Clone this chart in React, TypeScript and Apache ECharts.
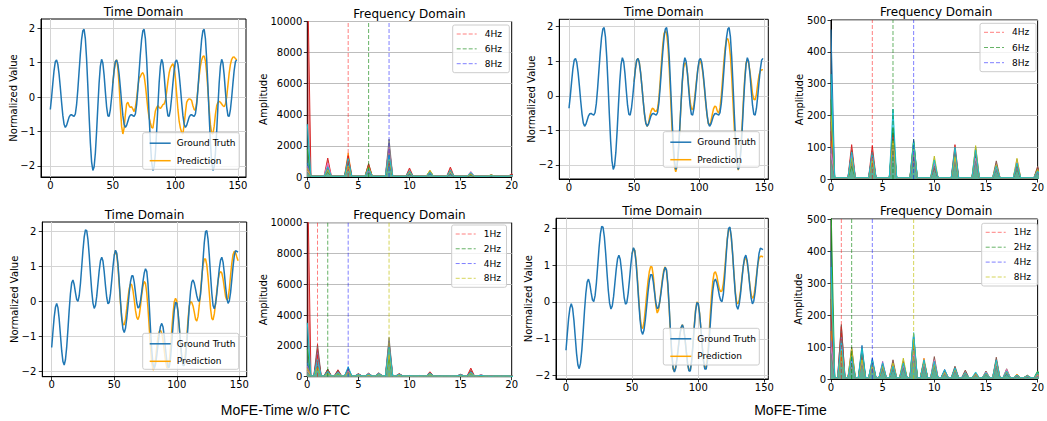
import React, { useEffect, useRef } from 'react';
import * as echarts from 'echarts';

// ---------------- DATA ----------------
const PRED_START = 50;

const GT_TOP = [
  -0.36,-0.01,0.40,0.78,1.03,1.08,0.96,0.67,0.28,-0.15,-0.53,-0.79,-0.88,-0.82,-0.70,-0.58,-0.52,-0.51,-0.54,-0.56,-0.49,-0.22,0.22,0.74,1.25,1.68,1.93,1.97,1.70,1.11,0.32,-0.54,-1.32,-1.88,-2.13,-2.03,-1.63,-1.00,-0.27,0.41,0.90,1.10,0.99,0.64,0.16,-0.28,-0.54,-0.56,
  -0.36,-0.01,0.40,0.78,1.03,1.08,0.96,0.67,0.28,-0.15,-0.53,-0.79,-0.88,-0.82,-0.70,-0.58,-0.52,-0.51,-0.54,-0.56,-0.49,-0.22,0.22,0.74,1.25,1.68,1.93,1.97,1.70,1.11,0.32,-0.54,-1.32,-1.88,-2.13,-2.03,-1.63,-1.00,-0.27,0.41,0.90,1.10,0.99,0.64,0.16,-0.28,-0.54,-0.56,
  -0.36,-0.01,0.40,0.78,1.03,1.08,0.96,0.67,0.28,-0.15,-0.53,-0.79,-0.88,-0.82,-0.70,-0.58,-0.52,-0.51,-0.54,-0.56,-0.49,-0.22,0.22,0.74,1.25,1.68,1.93,1.97,1.70,1.11,0.32,-0.54,-1.32,-1.88,-2.13,-2.03,-1.63,-1.00,-0.27,0.41,0.90,1.10,0.99,0.64,0.16,-0.28,-0.54,-0.56,
  -0.36,-0.01,0.40,0.78,1.03,1.08,
];

const PRED_TL = [
  0.40,0.78,1.03,1.08,0.85,0.35,-0.30,-0.85,-1.07,-0.90,
  -0.50,-0.20,-0.15,-0.25,-0.30,-0.28,-0.35,-0.42,-0.30,-0.05,
  0.30,0.55,0.60,0.68,0.71,0.62,0.35,0.00,-0.35,-0.60,
  -0.75,-0.88,-0.90,-0.65,-0.40,-0.30,-0.25,-0.30,-0.33,-0.28,
  -0.22,-0.20,-0.10,0.15,0.45,0.70,0.85,0.92,0.97,0.85,
  0.55,0.10,-0.35,-0.70,-0.90,-1.02,-1.07,-0.80,-0.45,-0.15,
  -0.08,-0.05,-0.06,-0.10,-0.25,-0.36,-0.38,-0.15,0.25,0.60,
  0.90,1.08,1.18,1.20,1.05,0.70,0.20,-0.35,-0.80,-1.05,
  -1.07,-0.85,-0.50,-0.25,-0.15,-0.12,-0.15,-0.20,-0.25,-0.28,
  -0.20,0.00,0.35,0.70,0.95,1.10,1.16,1.17,1.12,1.08,
];

const PRED_TR = [
  0.40,0.78,1.03,1.08,0.96,0.67,0.28,-0.15,-0.53,-0.79,
  -0.88,-0.82,-0.60,-0.45,-0.36,-0.38,-0.45,-0.45,-0.38,-0.10,
  0.40,0.95,1.45,1.80,1.88,1.80,1.45,0.80,0.00,-0.85,
  -1.55,-2.05,-2.20,-2.05,-1.60,-1.00,-0.30,0.35,0.80,0.95,
  0.92,0.65,0.25,-0.15,-0.38,-0.40,-0.25,0.10,0.45,0.78,
  0.98,1.00,0.88,0.60,0.22,-0.20,-0.55,-0.80,-0.85,-0.75,
  -0.55,-0.38,-0.30,-0.32,-0.45,-0.50,-0.35,0.00,0.50,1.00,
  1.40,1.62,1.65,1.50,1.15,0.55,-0.20,-0.95,-1.60,-2.00,
  -2.15,-1.95,-1.50,-0.85,-0.10,0.50,0.95,1.05,0.95,0.70,
  0.40,0.05,-0.10,-0.12,0.05,0.35,0.60,0.72,0.75,0.75,
];

const GT_BOT = [
  -1.31,-0.86,-0.44,-0.16,-0.05,-0.17,-0.50,-0.95,-1.40,-1.71,
  -1.81,-1.66,-1.30,-0.79,-0.24,0.23,0.54,0.62,0.49,0.26,
  0.06,0.01,0.17,0.52,0.99,1.47,1.85,2.05,2.03,1.77,
  1.33,0.80,0.31,-0.04,-0.19,-0.11,0.15,0.52,0.89,1.17,
  1.27,1.16,0.85,0.46,0.12,-0.06,-0.02,0.23,0.60,1.00,
  1.32,1.47,1.39,1.07,0.57,0.02,-0.48,-0.79,-0.88,-0.76,
  -0.48,-0.12,0.26,0.57,0.74,0.74,0.55,0.25,-0.03,-0.18,
  -0.15,0.02,0.29,0.58,0.82,0.94,0.87,0.50,-0.10,-0.78,
  -1.39,-1.79,-1.90,-1.79,-1.54,-1.23,-0.92,-0.70,-0.62,-0.72,
  -0.99,-1.35,-1.68,-1.87,-1.87,-1.61,-1.18,-0.68,-0.25,-0.02,
  -0.04,-0.30,-0.71,-1.18,-1.59,-1.82,-1.82,-1.60,-1.19,-0.67,
  -0.14,0.30,0.56,0.62,0.53,0.36,0.17,0.04,0.01,0.21,
  0.65,1.19,1.69,2.00,2.03,1.78,1.32,0.76,0.24,-0.11,
  -0.20,-0.06,0.22,0.59,0.95,1.19,1.27,1.13,0.82,0.44,
  0.11,-0.05,0.02,0.26,0.63,1.01,1.32,1.46,1.44,1.42,
];

const PRED_BL = [
  1.32,1.45,1.35,1.00,0.48,-0.05,-0.45,-0.65,-0.66,-0.50,
  -0.20,0.12,0.38,0.51,0.48,0.32,0.05,-0.25,-0.45,-0.51,
  -0.40,-0.12,0.20,0.45,0.58,0.52,0.25,-0.20,-0.75,-1.30,
  -1.75,-1.95,-1.90,-1.65,-1.30,-1.00,-0.85,-0.82,-0.90,-1.10,
  -1.40,-1.70,-1.88,-1.90,-1.70,-1.30,-0.80,-0.35,0.00,0.10,
  0.02,-0.30,-0.75,-1.20,-1.60,-1.80,-1.75,-1.45,-1.00,-0.50,
  -0.12,0.00,-0.02,-0.12,-0.30,-0.50,-0.55,-0.42,-0.10,0.30,
  0.72,1.05,1.22,1.22,1.05,0.70,0.25,-0.20,-0.48,-0.52,
  -0.35,-0.05,0.30,0.60,0.80,0.86,0.82,0.65,0.40,0.15,
  0.05,0.10,0.35,0.75,1.10,1.35,1.44,1.40,1.28,1.17,
];

const PRED_BR = [
  1.30,1.45,1.40,1.12,0.65,0.10,-0.38,-0.68,-0.72,-0.55,
  -0.20,0.20,0.55,0.82,0.96,0.95,0.72,0.30,-0.12,-0.30,
  -0.22,0.05,0.35,0.65,0.88,0.95,0.85,0.45,-0.15,-0.85,
  -1.45,-1.82,-1.88,-1.75,-1.50,-1.20,-0.90,-0.70,-0.62,-0.74,
  -1.00,-1.35,-1.68,-1.86,-1.85,-1.60,-1.15,-0.65,-0.22,0.00,
  -0.03,-0.30,-0.72,-1.20,-1.60,-1.80,-1.75,-1.45,-1.00,-0.40,
  0.15,0.55,0.78,0.82,0.72,0.52,0.35,0.28,0.30,0.50,
  0.85,1.30,1.72,1.98,2.00,1.75,1.30,0.78,0.30,0.00,
  -0.05,0.05,0.30,0.65,0.95,1.15,1.20,1.08,0.80,0.48,
  0.20,0.10,0.15,0.38,0.70,1.00,1.18,1.24,1.24,1.22,
];

// Frequency-domain peaks (Hz) and per-channel amplitudes (one row per channel colour)
const FREQS_TOP = [0, 2, 4, 6, 8, 10, 12, 14, 16, 18, 20];
const FREQS_BOT = [0, 1, 2, 3, 4, 5, 6, 7, 8, 9, 10, 11, 12, 13, 14, 15, 16, 17, 18, 19, 20];

const AMPS_TL = [
  [900, 400, 700, 300, 900, 150, 200, 150, 100, 60, 80],
  [600, 500, 1550, 500, 1200, 250, 420, 300, 150, 80, 100],
  [1800, 300, 900, 820, 1500, 200, 300, 250, 120, 70, 90],
  [14000, 1220, 1350, 860, 1000, 580, 350, 640, 200, 120, 200],
  [700, 750, 800, 450, 1900, 300, 250, 350, 250, 90, 60],
  [500, 600, 1000, 600, 2000, 350, 380, 400, 180, 150, 120],
  [400, 900, 600, 400, 2100, 250, 300, 300, 360, 100, 80],
  [300, 350, 500, 350, 2430, 200, 250, 200, 150, 110, 70],
  [500, 450, 700, 650, 1100, 300, 430, 350, 200, 130, 90],
  [3400, 650, 1200, 550, 1400, 400, 320, 450, 300, 80, 100],
];

const AMPS_TR = [
  [470, 60, 70, 150, 120, 40, 80, 100, 30, 40, 20],
  [120, 70, 55, 120, 80, 45, 75, 60, 35, 45, 25],
  [250, 40, 60, 160, 125, 50, 60, 70, 30, 30, 30],
  [150, 108, 105, 130, 100, 35, 108, 80, 40, 50, 35],
  [100, 80, 75, 100, 90, 45, 60, 55, 30, 35, 20],
  [180, 90, 80, 140, 70, 40, 90, 75, 57, 40, 40],
  [80, 75, 65, 110, 85, 50, 65, 65, 35, 62, 25],
  [60, 50, 50, 100, 75, 40, 55, 55, 30, 35, 20],
  [200, 65, 60, 120, 110, 72, 70, 105, 45, 65, 30],
  [330, 85, 85, 220, 115, 60, 100, 90, 40, 50, 25],
];

const AMPS_BL = [
  [900, 900, 300, 250, 400, 120, 150, 150, 1400, 100, 50, 50, 150, 30, 30, 80, 200, 60, 20, 30, 15],
  [600, 1200, 400, 300, 300, 150, 120, 200, 1800, 150, 60, 40, 200, 40, 40, 100, 300, 80, 25, 35, 20],
  [1800, 700, 350, 200, 350, 100, 180, 180, 1200, 120, 40, 60, 180, 35, 45, 90, 250, 70, 30, 40, 25],
  [14000, 1500, 480, 450, 500, 180, 200, 230, 2000, 200, 70, 70, 320, 50, 50, 140, 560, 100, 35, 45, 30],
  [700, 1700, 300, 350, 450, 130, 160, 170, 2200, 130, 50, 50, 220, 45, 40, 120, 350, 90, 30, 40, 20],
  [500, 2100, 500, 400, 550, 200, 230, 250, 2300, 180, 80, 80, 250, 60, 60, 160, 400, 120, 40, 50, 25],
  [400, 1000, 250, 300, 350, 150, 200, 200, 1600, 140, 60, 60, 200, 40, 55, 110, 300, 110, 30, 40, 20],
  [300, 800, 300, 250, 300, 120, 150, 180, 2550, 120, 50, 50, 180, 40, 40, 100, 250, 80, 25, 35, 20],
  [500, 600, 200, 200, 250, 100, 130, 150, 1500, 100, 40, 40, 150, 30, 35, 80, 200, 60, 20, 30, 15],
  [3500, 1100, 350, 280, 650, 140, 170, 200, 1900, 150, 60, 55, 220, 45, 45, 120, 300, 90, 30, 40, 20],
];

const AMPS_BR = [
  [400, 90, 60, 105, 65, 30, 30, 35, 140, 40, 40, 30, 25, 15, 15, 15, 40, 15, 8, 6, 10],
  [150, 70, 50, 60, 40, 40, 35, 45, 100, 65, 45, 20, 30, 18, 12, 18, 45, 20, 15, 8, 12],
  [550, 110, 80, 90, 50, 35, 40, 50, 120, 50, 50, 20, 30, 20, 15, 15, 50, 25, 10, 8, 25],
  [200, 165, 70, 70, 45, 45, 45, 40, 110, 55, 55, 25, 35, 20, 15, 20, 60, 25, 10, 10, 15],
  [120, 130, 60, 60, 50, 55, 50, 45, 90, 45, 50, 15, 25, 15, 12, 15, 45, 20, 10, 8, 10],
  [250, 170, 100, 80, 55, 45, 60, 55, 130, 55, 70, 25, 40, 28, 18, 25, 68, 32, 12, 12, 18],
  [100, 100, 55, 50, 40, 40, 45, 40, 80, 45, 60, 20, 30, 20, 15, 22, 50, 30, 10, 8, 10],
  [80, 80, 50, 45, 35, 30, 35, 35, 70, 40, 40, 15, 25, 15, 12, 15, 40, 20, 8, 6, 8],
  [300, 90, 95, 60, 45, 40, 50, 65, 125, 55, 45, 20, 30, 18, 15, 18, 55, 22, 12, 10, 15],
  [350, 120, 70, 95, 60, 50, 40, 50, 145, 60, 55, 28, 35, 20, 22, 20, 60, 25, 12, 10, 20],
];

const BASE_TL = 50;
const BASE_TR = 4;
const BASE_BL = 50;
const BASE_BR = 4;

const MARK_TOP_FREQS = [4, 6, 8];
const MARK_TOP_LABELS = ['4Hz', '6Hz', '8Hz'];
const MARK_BOT_FREQS = [1, 2, 4, 8];
const MARK_BOT_LABELS = ['1Hz', '2Hz', '4Hz', '8Hz'];

const TIME_X_TICKS = [0, 50, 100, 150];
const TIME_Y_TICKS = [-2, -1, 0, 1, 2];

const CAPTIONS = ['MoFE-Time w/o FTC', 'MoFE-Time'];

// ---------------- STYLE / LAYOUT ----------------
const W = 1047;
const H = 421;
const FONT = '"DejaVu Sans", sans-serif';
const TAB10 = ['#1f77b4', '#ff7f0e', '#2ca02c', '#d62728', '#9467bd', '#8c564b', '#e377c2', '#7f7f7f', '#bcbd22', '#17becf'];
const MARK_TOP_COLORS = ['rgba(255,0,0,0.5)', 'rgba(0,128,0,0.6)', 'rgba(0,0,255,0.5)'];
const MARK_BOT_COLORS = ['rgba(255,0,0,0.5)', 'rgba(0,128,0,0.6)', 'rgba(0,0,255,0.5)', 'rgba(191,191,0,0.65)'];
const HW = 0.36;

type Rect = { left: number; top: number; width: number; height: number };
const GRIDS: Rect[] = [
  { left: 41, top: 19, width: 205, height: 158 },
  { left: 307.3, top: 21.5, width: 204.4, height: 155.5 },
  { left: 559.3, top: 19.3, width: 209, height: 159.7 },
  { left: 831, top: 20, width: 210.5, height: 159 },
  { left: 42.3, top: 222, width: 204.4, height: 154.7 },
  { left: 307.3, top: 222.7, width: 204.4, height: 154 },
  { left: 556, top: 218.3, width: 212.3, height: 160.7 },
  { left: 831, top: 219, width: 210.5, height: 160 },
];

const TIME_RANGES = [
  { gi: 0, xmin: -7.45, xmax: 156.45, ymin: -2.32, ymax: 2.27, gt: GT_TOP, pred: PRED_TL, legend: [142.7, 132.7, 96.6, 36.6], ylabX: 13.3 },
  { gi: 2, xmin: -7.45, xmax: 153.1, ymin: -2.405, ymax: 2.21, gt: GT_TOP, pred: PRED_TR, legend: [663.3, 131.7, 96, 35.5], ylabX: 531.7 },
  { gi: 4, xmin: -7.5, xmax: 155.9, ymin: -2.143, ymax: 2.277, gt: GT_BOT, pred: PRED_BL, legend: [142.7, 333.3, 96, 36], ylabX: 14 },
  { gi: 6, xmin: -7.56, xmax: 153.0, ymin: -2.09, ymax: 2.27, gt: GT_BOT, pred: PRED_BR, legend: [663.3, 328.3, 96, 36.7], ylabX: 528.3 },
];

const FREQ_PLOTS = [
  { gi: 1, freqs: FREQS_TOP, amps: AMPS_TL, base: BASE_TL, ymax: 10000, step: 2000, marks: MARK_TOP_FREQS, labels: MARK_TOP_LABELS, colors: MARK_TOP_COLORS, legend: [452.7, 25, 56.6, 47.7], ylabX: 263.3 },
  { gi: 3, freqs: FREQS_TOP, amps: AMPS_TR, base: BASE_TR, ymax: 500, step: 100, marks: MARK_TOP_FREQS, labels: MARK_TOP_LABELS, colors: MARK_TOP_COLORS, legend: [980, 23.3, 56, 48.4], ylabX: 799.3 },
  { gi: 5, freqs: FREQS_BOT, amps: AMPS_BL, base: BASE_BL, ymax: 10000, step: 2000, marks: MARK_BOT_FREQS, labels: MARK_BOT_LABELS, colors: MARK_BOT_COLORS, legend: [451.7, 225, 54.8, 62.3], ylabX: 263.3 },
  { gi: 7, freqs: FREQS_BOT, amps: AMPS_BR, base: BASE_BR, ymax: 500, step: 100, marks: MARK_BOT_FREQS, labels: MARK_BOT_LABELS, colors: MARK_BOT_COLORS, legend: [981.7, 223.3, 55.6, 62.7], ylabX: 798.3 },
];

const minus = (v: number) => String(v).replace('-', '\u2212');
const plain = (v: number) => String(v);

function text(x: number, y: number, str: string, font: string, align = 'center', vAlign = 'middle', rotation = 0): any {
  return {
    type: 'text', x, y, rotation, z: 100,
    style: { text: str, font, fill: '#000', align, verticalAlign: vAlign, textAlign: align, textVerticalAlign: vAlign },
  };
}

function spikeData(freqs: number[], amps: number[], base: number) {
  const pts: number[][] = [];
  freqs.forEach((f, k) => {
    if (f > 0) pts.push([f - HW, base]);
    pts.push([f, amps[k]]);
    pts.push([f + HW, base]);
  });
  return pts;
}

function buildOption() {
  const grid: any[] = GRIDS.map((g) => ({ ...g, show: true, borderColor: '#000', borderWidth: 1, backgroundColor: 'transparent', containLabel: false }));
  const xAxis: any[] = [];
  const yAxis: any[] = [];
  const series: any[] = [];
  const graphic: any[] = [];

  const axisCommon = {
    axisLine: { show: true, onZero: false, lineStyle: { color: '#000', width: 1 } },
    axisTick: { show: true, inside: false, length: 3.5, lineStyle: { color: '#000', width: 0.8 } },
  };

  for (let gi = 0; gi < 8; gi++) {
    const tp = TIME_RANGES.find((t) => t.gi === gi);
    const fp = FREQ_PLOTS.find((f) => f.gi === gi);
    if (tp) {
      xAxis.push({
        type: 'value', gridIndex: gi, min: tp.xmin, max: tp.xmax,
        ...axisCommon,
        axisTick: { ...axisCommon.axisTick, customValues: TIME_X_TICKS },
        axisLabel: { customValues: TIME_X_TICKS, color: '#000', fontSize: 10, fontFamily: FONT, margin: 3, formatter: minus },
        splitLine: { show: true, lineStyle: { color: '#d4d4d4', width: 1 } },
      });
      yAxis.push({
        type: 'value', gridIndex: gi, min: tp.ymin, max: tp.ymax,
        ...axisCommon,
        axisTick: { ...axisCommon.axisTick, customValues: TIME_Y_TICKS },
        axisLabel: { customValues: TIME_Y_TICKS, color: '#000', fontSize: 10, fontFamily: FONT, margin: 6, formatter: minus },
        splitLine: { show: true, lineStyle: { color: '#d4d4d4', width: 1 } },
      });
    } else if (fp) {
      xAxis.push({
        type: 'value', gridIndex: gi, min: 0, max: 20, interval: 5,
        ...axisCommon,
        axisLabel: { color: '#000', fontSize: 10, fontFamily: FONT, margin: 3, formatter: plain },
        splitLine: { show: false },
      });
      yAxis.push({
        type: 'value', gridIndex: gi, min: 0, max: fp.ymax, interval: fp.step,
        ...axisCommon,
        axisLabel: { color: '#000', fontSize: 10, fontFamily: FONT, margin: 5, formatter: plain },
        splitLine: { show: true, lineStyle: { color: '#bdbdbd', width: 1 } },
      });
    }
  }

  // Time-domain series
  TIME_RANGES.forEach((tp) => {
    series.push({
      type: 'line', name: 'Prediction', xAxisIndex: tp.gi, yAxisIndex: tp.gi,
      data: tp.pred.map((v, j) => [PRED_START + j, v]),
      symbol: 'none', showSymbol: false, silent: true,
      lineStyle: { color: '#ffa500', width: 1.5 },
    });
    series.push({
      type: 'line', name: 'Ground Truth', xAxisIndex: tp.gi, yAxisIndex: tp.gi,
      data: tp.gt.map((v, i) => [i, v]),
      symbol: 'none', showSymbol: false, silent: true,
      lineStyle: { color: '#1f77b4', width: 1.5 },
    });
    const g = GRIDS[tp.gi];
    graphic.push(text(g.left + g.width / 2, g.top - 7, 'Time Domain', '12px ' + FONT));
    graphic.push(text(tp.ylabX, g.top + g.height / 2, 'Normalized Value', '10px ' + FONT, 'center', 'middle', Math.PI / 2));
    const [lx, ly, lw, lh] = tp.legend;
    graphic.push({ type: 'rect', z: 100, shape: { x: lx, y: ly, width: lw, height: lh, r: 2 }, style: { fill: 'rgba(255,255,255,0.8)', stroke: '#cccccc', lineWidth: 1 } });
    const rows = [
      { label: 'Ground Truth', color: '#1f77b4', dy: 10.5 },
      { label: 'Prediction', color: '#ffa500', dy: 28 },
    ];
    rows.forEach((r) => {
      graphic.push({ type: 'line', z: 101, shape: { x1: lx + 7, y1: ly + r.dy, x2: lx + 28, y2: ly + r.dy }, style: { stroke: r.color, lineWidth: 1.5 } });
      graphic.push(text(lx + 34, ly + r.dy, r.label, '9px ' + FONT, 'left', 'middle'));
    });
  });

  // Frequency-domain series
  FREQ_PLOTS.forEach((fp) => {
    fp.amps.forEach((row, c) => {
      series.push({
        type: 'line', xAxisIndex: fp.gi, yAxisIndex: fp.gi,
        data: spikeData(fp.freqs, row, fp.base),
        symbol: 'none', showSymbol: false, silent: true, clip: true,
        lineStyle: { color: TAB10[c % 10], width: 1 },
        areaStyle: { color: TAB10[c % 10], opacity: 0.55, origin: 'start' },
      });
    });
    fp.marks.forEach((f, k) => {
      series.push({
        type: 'line', name: fp.labels[k], xAxisIndex: fp.gi, yAxisIndex: fp.gi,
        data: [[f, 0], [f, fp.ymax]], z: 5,
        symbol: 'none', showSymbol: false, silent: true,
        lineStyle: { color: fp.colors[k], width: 1, type: [4, 2] },
      });
    });
    const g = GRIDS[fp.gi];
    graphic.push(text(g.left + g.width / 2, g.top - 8, 'Frequency Domain', '12px ' + FONT));
    graphic.push(text(fp.ylabX, g.top + g.height / 2, 'Amplitude', '10px ' + FONT, 'center', 'middle', Math.PI / 2));
    const [lx, ly, lw, lh] = fp.legend;
    graphic.push({ type: 'rect', z: 100, shape: { x: lx, y: ly, width: lw, height: lh, r: 2 }, style: { fill: 'rgba(255,255,255,0.8)', stroke: '#cccccc', lineWidth: 1 } });
    const rowGap = (lh - 18) / (fp.labels.length - 1 || 1);
    fp.labels.forEach((lab, k) => {
      const yy = ly + 9 + k * rowGap;
      graphic.push({ type: 'line', z: 101, shape: { x1: lx + 4, y1: yy, x2: lx + 24, y2: yy }, style: { stroke: fp.colors[k], lineWidth: 1, lineDash: [4, 2] } });
      graphic.push(text(lx + 32, yy, lab, '9px ' + FONT, 'left', 'middle'));
    });
  });

  // captions
  graphic.push(text(285.5, 410, CAPTIONS[0], '14px "Liberation Sans", sans-serif'));
  graphic.push(text(790.5, 410, CAPTIONS[1], '14px "Liberation Sans", sans-serif'));

  return {
    animation: false,
    backgroundColor: '#fff',
    grid, xAxis, yAxis, series, graphic,
  };
}

export default function App() {
  const ref = useRef<HTMLDivElement>(null);
  useEffect(() => {
    document.body.style.margin = '0';
    const chart = echarts.init(ref.current as HTMLDivElement, undefined, { renderer: 'svg' });
    chart.setOption(buildOption() as any);
    return () => chart.dispose();
  }, []);
  return <div ref={ref} style={{ width: W, height: H }} />;
}
